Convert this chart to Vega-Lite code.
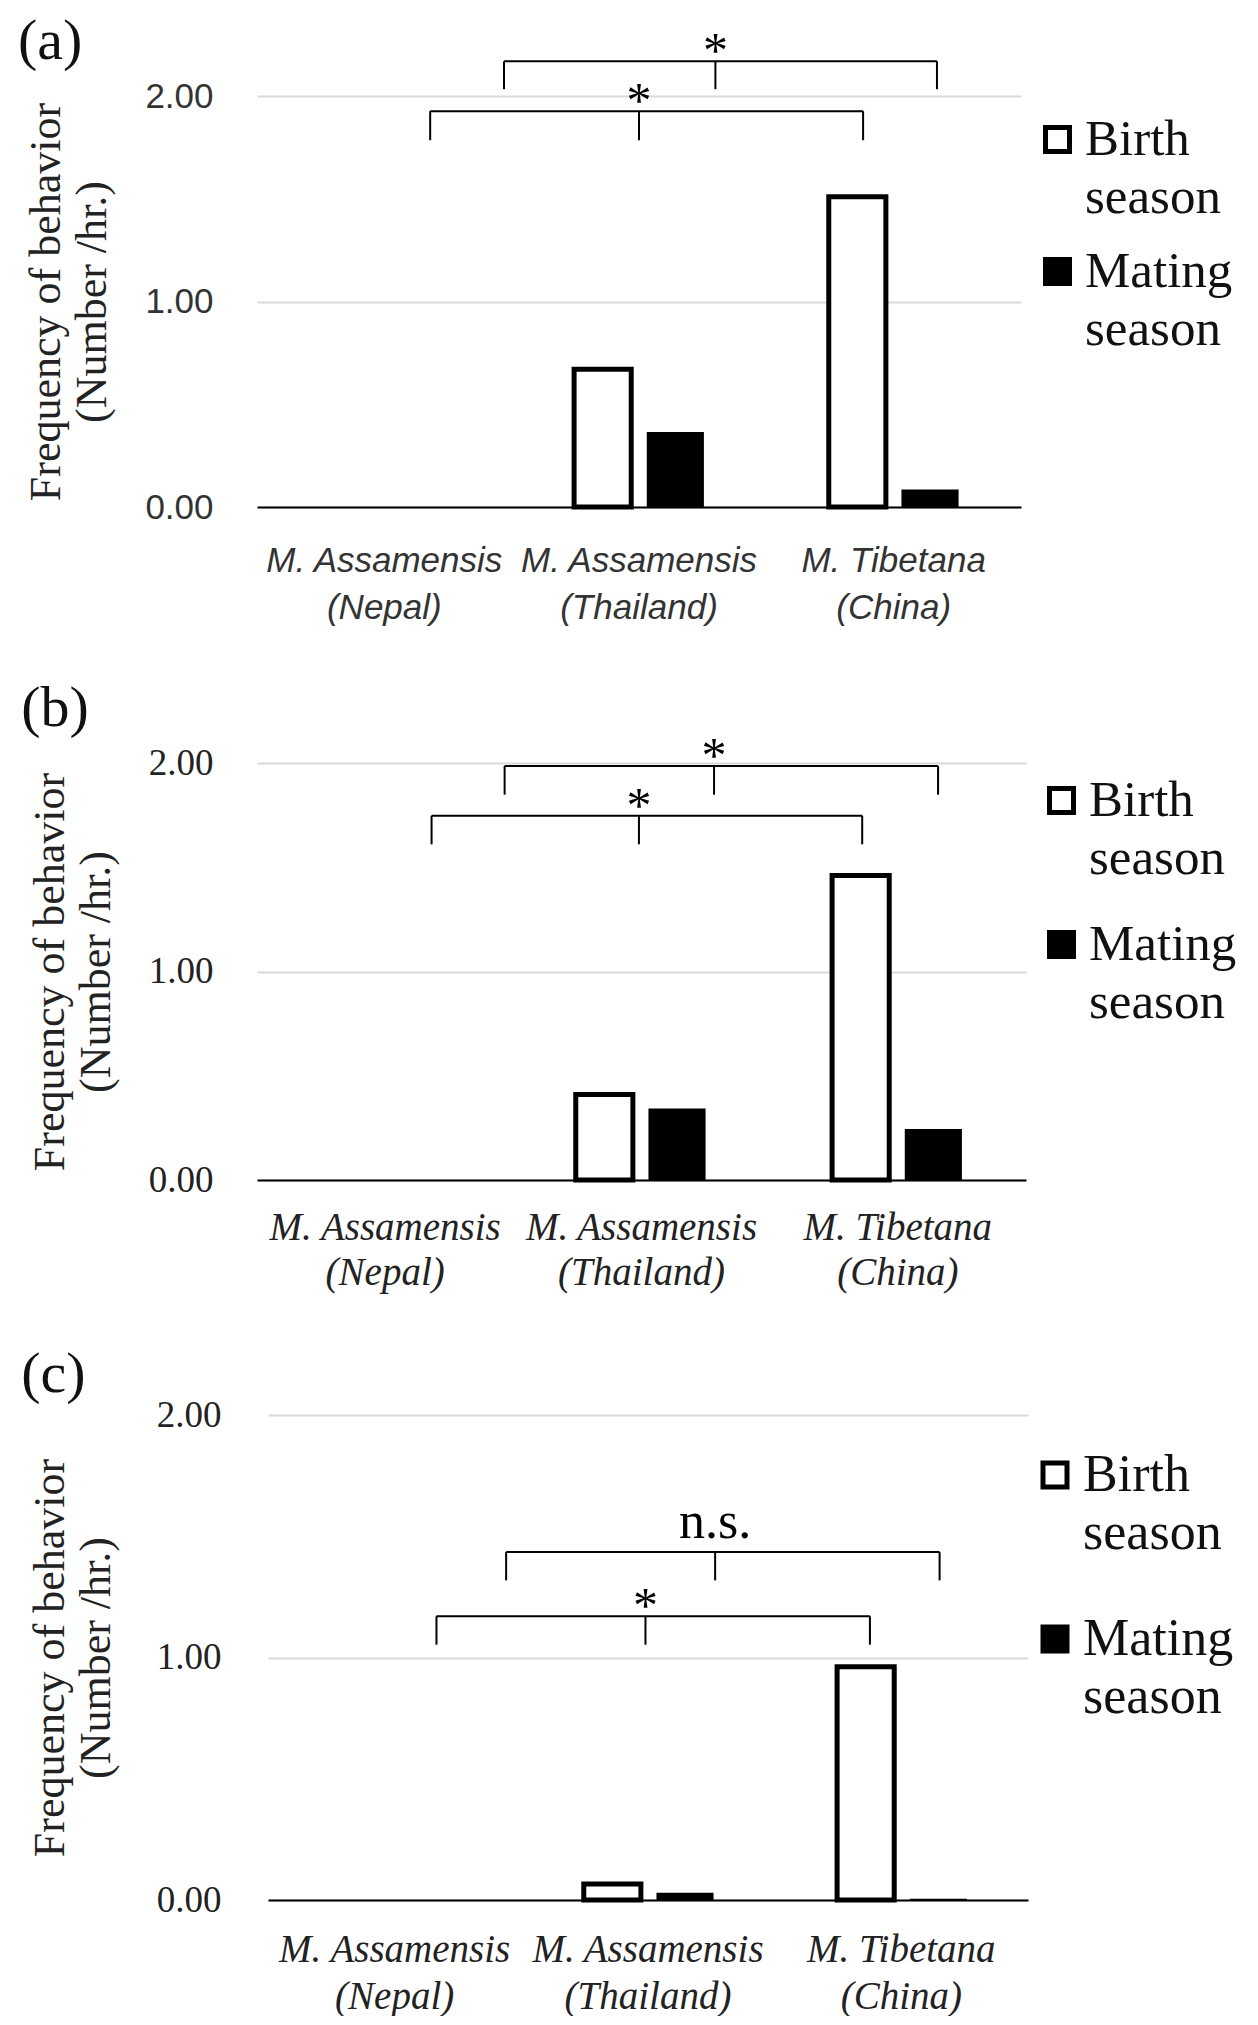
{
  "$schema": "https://vega.github.io/schema/vega-lite/v6.json",
  "padding": {"left": 17, "top": 13, "right": 0, "bottom": 0},
  "background": "white",
  "datasets": {
    "bars": [
      {"panel": "a", "species": "M. Assamensis (Nepal)", "season": "Birth season", "value": 0},
      {"panel": "a", "species": "M. Assamensis (Nepal)", "season": "Mating season", "value": 0},
      {"panel": "a", "species": "M. Assamensis (Thailand)", "season": "Birth season", "value": 0.67},
      {"panel": "a", "species": "M. Assamensis (Thailand)", "season": "Mating season", "value": 0.365},
      {"panel": "a", "species": "M. Tibetana (China)", "season": "Birth season", "value": 1.51},
      {"panel": "a", "species": "M. Tibetana (China)", "season": "Mating season", "value": 0.085},
      {"panel": "b", "species": "M. Assamensis (Nepal)", "season": "Birth season", "value": 0},
      {"panel": "b", "species": "M. Assamensis (Nepal)", "season": "Mating season", "value": 0},
      {"panel": "b", "species": "M. Assamensis (Thailand)", "season": "Birth season", "value": 0.41},
      {"panel": "b", "species": "M. Assamensis (Thailand)", "season": "Mating season", "value": 0.343},
      {"panel": "b", "species": "M. Tibetana (China)", "season": "Birth season", "value": 1.46},
      {"panel": "b", "species": "M. Tibetana (China)", "season": "Mating season", "value": 0.245},
      {"panel": "c", "species": "M. Assamensis (Nepal)", "season": "Birth season", "value": 0},
      {"panel": "c", "species": "M. Assamensis (Nepal)", "season": "Mating season", "value": 0},
      {"panel": "c", "species": "M. Assamensis (Thailand)", "season": "Birth season", "value": 0.066},
      {"panel": "c", "species": "M. Assamensis (Thailand)", "season": "Mating season", "value": 0.03},
      {"panel": "c", "species": "M. Tibetana (China)", "season": "Birth season", "value": 0.962},
      {"panel": "c", "species": "M. Tibetana (China)", "season": "Mating season", "value": 0.005}
    ],
    "brackets": [
      {"panel": "a", "left": 0.97, "mid": 1.8, "right": 2.67, "top": 2.169, "bottom": 2.033, "label": "*"},
      {"panel": "a", "left": 0.68, "mid": 1.5, "right": 2.38, "top": 1.926, "bottom": 1.785, "label": "*"},
      {"panel": "b", "left": 0.966, "mid": 1.783, "right": 2.657, "top": 1.986, "bottom": 1.848, "label": "*"},
      {"panel": "b", "left": 0.681, "mid": 1.49, "right": 2.361, "top": 1.747, "bottom": 1.61, "label": "*"},
      {"panel": "c", "left": 0.94, "mid": 1.765, "right": 2.651, "top": 1.435, "bottom": 1.318, "label": "n.s."},
      {"panel": "c", "left": 0.665, "mid": 1.49, "right": 2.376, "top": 1.17, "bottom": 1.053, "label": "*"}
    ]
  },
  "config": {
    "view": {"stroke": null},
    "font": "Liberation Serif",
    "style": {"guide-label": {"lineHeight": 58}}
  },
  "spacing": 54,
  "resolve": {"scale": {"fill": "independent"}, "legend": {"fill": "independent"}},
  "vconcat": [
    {
      "title": {"text": "(a)", "anchor": "start", "frame": "bounds", "font": "Liberation Serif", "fontSize": 58, "fontWeight": "normal", "color": "#111", "offset": -44, "dx": -7},
      "width": 764,
      "height": 411,
      "resolve": {"scale": {"x": "independent"}, "axis": {"x": "independent"}},
      "layer": [
        {
          "data": {"name": "bars"},
          "transform": [{"filter": "datum.panel === 'a'"}],
          "mark": {"type": "bar", "stroke": "black", "strokeJoin": "miter"},
          "encoding": {
            "x": {"field": "species", "type": "nominal", "sort": null,
              "scale": {"domain": ["M. Assamensis (Nepal)", "M. Assamensis (Thailand)", "M. Tibetana (China)"], "paddingInner": 0, "paddingOuter": 0},
              "axis": {"title": null, "labelAngle": 0, "labelExpr": "split(replace(datum.label, ' (', '|('), '|')", "labelFont": "Liberation Sans", "labelFontStyle": "italic", "labelFontSize": 35, "labelLineHeight": 47, "labelPadding": 36, "labelColor": "#333", "labelLimit": 0, "labelOverlap": false, "ticks": false, "domainColor": "black", "domainWidth": 2, "zindex": 1}},
            "xOffset": {"field": "season", "type": "nominal", "sort": null,
              "scale": {"domain": ["Birth season", "Mating season"], "paddingInner": 0.214, "paddingOuter": 0.859}},
            "y": {"field": "value", "type": "quantitative", "scale": {"domain": [0, 2]},
              "axis": {"values": [0, 1, 2], "format": ".2f", "title": ["Frequency of behavior", "(Number /hr.)"], "titleFont": "Liberation Serif", "titleFontSize": 44, "titleFontWeight": "normal", "titleColor": "#222", "titleLineHeight": 46, "titlePadding": 30, "labelFont": "Liberation Sans", "labelFontSize": 35, "labelPadding": 44, "labelColor": "#333", "ticks": false, "domain": false, "grid": true, "gridColor": "#d9d9d9", "gridWidth": 2}},
            "fill": {"field": "season", "type": "nominal",
              "scale": {"domain": ["Birth season", "Mating season"], "range": ["white", "black"]},
              "legend": {"title": null, "orient": "right", "offset": -7, "padding": 18, "labelExpr": "split(datum.label, ' ')", "labelFont": "Liberation Serif", "labelFontSize": 51, "labelColor": "#111", "labelBaseline": "middle", "labelLimit": 0, "labelOffset": 2, "symbolType": "square", "symbolSize": 576, "symbolStrokeWidth": 5, "symbolStrokeColor": "black", "rowPadding": 22}},
            "strokeWidth": {"condition": {"test": "(datum.season === 'Birth season' && datum.value > 0) || datum.value === 'Birth season'", "value": 5}, "value": 0}
          }
        },
        {
          "data": {"name": "brackets"},
          "transform": [{"filter": "datum.panel === 'a'"}],
          "mark": {"type": "rule", "color": "black", "strokeWidth": 2},
          "encoding": {
            "x": {"field": "left", "type": "quantitative", "scale": {"domain": [0, 3]}, "axis": null},
            "x2": {"field": "right"},
            "y": {"field": "top", "type": "quantitative", "scale": {"domain": [0, 2]}}
          }
        },
        {
          "data": {"name": "brackets"},
          "transform": [{"filter": "datum.panel === 'a'"}, {"fold": ["left", "mid", "right"], "as": ["end", "pos"]}],
          "mark": {"type": "rule", "color": "black", "strokeWidth": 2},
          "encoding": {
            "x": {"field": "pos", "type": "quantitative", "scale": {"domain": [0, 3]}, "axis": null},
            "y": {"field": "top", "type": "quantitative", "scale": {"domain": [0, 2]}},
            "y2": {"field": "bottom"}
          }
        },
        {
          "data": {"name": "brackets"},
          "transform": [{"filter": "datum.panel === 'a' && datum.label === '*'"}],
          "mark": {"type": "text", "font": "Liberation Serif", "fontSize": 50, "baseline": "alphabetic", "align": "center", "dy": 6, "color": "black"},
          "encoding": {
            "x": {"field": "mid", "type": "quantitative", "scale": {"domain": [0, 3]}, "axis": null},
            "y": {"field": "top", "type": "quantitative", "scale": {"domain": [0, 2]}},
            "text": {"field": "label"}
          }
        }
      ]
    },
    {
      "title": {"text": "(b)", "anchor": "start", "frame": "bounds", "font": "Liberation Serif", "fontSize": 58, "fontWeight": "normal", "color": "#111", "offset": -6, "dx": -7},
      "width": 769,
      "height": 417,
      "resolve": {"scale": {"x": "independent"}, "axis": {"x": "independent"}},
      "layer": [
        {
          "data": {"name": "bars"},
          "transform": [{"filter": "datum.panel === 'b'"}],
          "mark": {"type": "bar", "stroke": "black", "strokeJoin": "miter"},
          "encoding": {
            "x": {"field": "species", "type": "nominal", "sort": null,
              "scale": {"domain": ["M. Assamensis (Nepal)", "M. Assamensis (Thailand)", "M. Tibetana (China)"], "paddingInner": 0, "paddingOuter": 0},
              "axis": {"title": null, "labelAngle": 0, "labelExpr": "split(replace(datum.label, ' (', '|('), '|')", "labelFont": "Liberation Serif", "labelFontStyle": "italic", "labelFontSize": 39, "labelLineHeight": 45, "labelPadding": 28, "labelColor": "#222", "labelLimit": 0, "labelOverlap": false, "ticks": false, "domainColor": "black", "domainWidth": 2, "zindex": 1}},
            "xOffset": {"field": "season", "type": "nominal", "sort": null,
              "scale": {"domain": ["Birth season", "Mating season"], "paddingInner": 0.214, "paddingOuter": 0.859}},
            "y": {"field": "value", "type": "quantitative", "scale": {"domain": [0, 2]},
              "axis": {"values": [0, 1, 2], "format": ".2f", "title": ["Frequency of behavior", "(Number /hr.)"], "titleFont": "Liberation Serif", "titleFontSize": 44, "titleFontWeight": "normal", "titleColor": "#222", "titleLineHeight": 46, "titlePadding": 30, "labelFont": "Liberation Serif", "labelFontSize": 37, "labelPadding": 44, "labelColor": "#222", "ticks": false, "domain": false, "grid": true, "gridColor": "#d9d9d9", "gridWidth": 2}},
            "fill": {"field": "season", "type": "nominal",
              "scale": {"domain": ["Birth season", "Mating season"], "range": ["white", "black"]},
              "legend": {"title": null, "orient": "right", "offset": -2, "padding": 12, "labelExpr": "split(datum.label, ' ')", "labelFont": "Liberation Serif", "labelFontSize": 51, "labelColor": "#111", "labelBaseline": "middle", "labelLimit": 0, "labelOffset": 2, "symbolType": "square", "symbolSize": 576, "symbolStrokeWidth": 5, "symbolStrokeColor": "black", "rowPadding": 34}},
            "strokeWidth": {"condition": {"test": "(datum.season === 'Birth season' && datum.value > 0) || datum.value === 'Birth season'", "value": 5}, "value": 0}
          }
        },
        {
          "data": {"name": "brackets"},
          "transform": [{"filter": "datum.panel === 'b'"}],
          "mark": {"type": "rule", "color": "black", "strokeWidth": 2},
          "encoding": {
            "x": {"field": "left", "type": "quantitative", "scale": {"domain": [0, 3]}, "axis": null},
            "x2": {"field": "right"},
            "y": {"field": "top", "type": "quantitative", "scale": {"domain": [0, 2]}}
          }
        },
        {
          "data": {"name": "brackets"},
          "transform": [{"filter": "datum.panel === 'b'"}, {"fold": ["left", "mid", "right"], "as": ["end", "pos"]}],
          "mark": {"type": "rule", "color": "black", "strokeWidth": 2},
          "encoding": {
            "x": {"field": "pos", "type": "quantitative", "scale": {"domain": [0, 3]}, "axis": null},
            "y": {"field": "top", "type": "quantitative", "scale": {"domain": [0, 2]}},
            "y2": {"field": "bottom"}
          }
        },
        {
          "data": {"name": "brackets"},
          "transform": [{"filter": "datum.panel === 'b' && datum.label === '*'"}],
          "mark": {"type": "text", "font": "Liberation Serif", "fontSize": 50, "baseline": "alphabetic", "align": "center", "dy": 6, "color": "black"},
          "encoding": {
            "x": {"field": "mid", "type": "quantitative", "scale": {"domain": [0, 3]}, "axis": null},
            "y": {"field": "top", "type": "quantitative", "scale": {"domain": [0, 2]}},
            "text": {"field": "label"}
          }
        }
      ]
    },
    {
      "title": {"text": "(c)", "anchor": "start", "frame": "bounds", "font": "Liberation Serif", "fontSize": 58, "fontWeight": "normal", "color": "#111", "offset": -8, "dx": -7},
      "width": 771,
      "height": 485,
      "resolve": {"scale": {"x": "independent"}, "axis": {"x": "independent"}},
      "layer": [
        {
          "data": {"name": "bars"},
          "transform": [{"filter": "datum.panel === 'c'"}],
          "mark": {"type": "bar", "stroke": "black", "strokeJoin": "miter"},
          "encoding": {
            "x": {"field": "species", "type": "nominal", "sort": null,
              "scale": {"domain": ["M. Assamensis (Nepal)", "M. Assamensis (Thailand)", "M. Tibetana (China)"], "paddingInner": 0, "paddingOuter": 0, "range": [11, 771]},
              "axis": {"title": null, "labelAngle": 0, "labelExpr": "split(replace(datum.label, ' (', '|('), '|')", "labelFont": "Liberation Serif", "labelFontStyle": "italic", "labelFontSize": 39, "labelLineHeight": 47, "labelPadding": 30, "labelColor": "#222", "labelLimit": 0, "labelOverlap": false, "ticks": false, "domainColor": "black", "domainWidth": 2, "zindex": 1}},
            "xOffset": {"field": "season", "type": "nominal", "sort": null,
              "scale": {"domain": ["Birth season", "Mating season"], "paddingInner": 0.214, "paddingOuter": 0.859}},
            "y": {"field": "value", "type": "quantitative", "scale": {"domain": [0, 2]},
              "axis": {"values": [0, 1, 2], "format": ".2f", "title": ["Frequency of behavior", "(Number /hr.)"], "titleFont": "Liberation Serif", "titleFontSize": 44, "titleFontWeight": "normal", "titleColor": "#222", "titleLineHeight": 46, "titlePadding": 38, "labelFont": "Liberation Serif", "labelFontSize": 37, "labelPadding": 36, "labelColor": "#222", "ticks": false, "domain": false, "grid": true, "gridColor": "#d9d9d9", "gridWidth": 2}},
            "fill": {"field": "season", "type": "nominal",
              "scale": {"domain": ["Birth season", "Mating season"], "range": ["white", "black"]},
              "legend": {"title": null, "orient": "right", "offset": -33, "padding": 34, "labelExpr": "split(datum.label, ' ')", "labelFont": "Liberation Serif", "labelFontSize": 52, "labelColor": "#111", "labelBaseline": "middle", "labelLimit": 0, "labelOffset": 2, "symbolType": "square", "symbolSize": 576, "symbolStrokeWidth": 5, "symbolStrokeColor": "black", "rowPadding": 54}},
            "strokeWidth": {"condition": {"test": "(datum.season === 'Birth season' && datum.value > 0) || datum.value === 'Birth season'", "value": 5}, "value": 0}
          }
        },
        {
          "data": {"name": "brackets"},
          "transform": [{"filter": "datum.panel === 'c'"}],
          "mark": {"type": "rule", "color": "black", "strokeWidth": 2},
          "encoding": {
            "x": {"field": "left", "type": "quantitative", "scale": {"domain": [0, 3], "range": [11, 771]}, "axis": null},
            "x2": {"field": "right"},
            "y": {"field": "top", "type": "quantitative", "scale": {"domain": [0, 2]}}
          }
        },
        {
          "data": {"name": "brackets"},
          "transform": [{"filter": "datum.panel === 'c'"}, {"fold": ["left", "mid", "right"], "as": ["end", "pos"]}],
          "mark": {"type": "rule", "color": "black", "strokeWidth": 2},
          "encoding": {
            "x": {"field": "pos", "type": "quantitative", "scale": {"domain": [0, 3], "range": [11, 771]}, "axis": null},
            "y": {"field": "top", "type": "quantitative", "scale": {"domain": [0, 2]}},
            "y2": {"field": "bottom"}
          }
        },
        {
          "data": {"name": "brackets"},
          "transform": [{"filter": "datum.panel === 'c' && datum.label === '*'"}],
          "mark": {"type": "text", "font": "Liberation Serif", "fontSize": 50, "baseline": "alphabetic", "align": "center", "dy": 6, "color": "black"},
          "encoding": {
            "x": {"field": "mid", "type": "quantitative", "scale": {"domain": [0, 3], "range": [11, 771]}, "axis": null},
            "y": {"field": "top", "type": "quantitative", "scale": {"domain": [0, 2]}},
            "text": {"field": "label"}
          }
        },
        {
          "data": {"name": "brackets"},
          "transform": [{"filter": "datum.panel === 'c' && datum.label !== '*'"}],
          "mark": {"type": "text", "font": "Liberation Serif", "fontSize": 52, "baseline": "alphabetic", "align": "center", "dy": -14, "color": "black"},
          "encoding": {
            "x": {"field": "mid", "type": "quantitative", "scale": {"domain": [0, 3], "range": [11, 771]}, "axis": null},
            "y": {"field": "top", "type": "quantitative", "scale": {"domain": [0, 2]}},
            "text": {"field": "label"}
          }
        }
      ]
    }
  ]
}
